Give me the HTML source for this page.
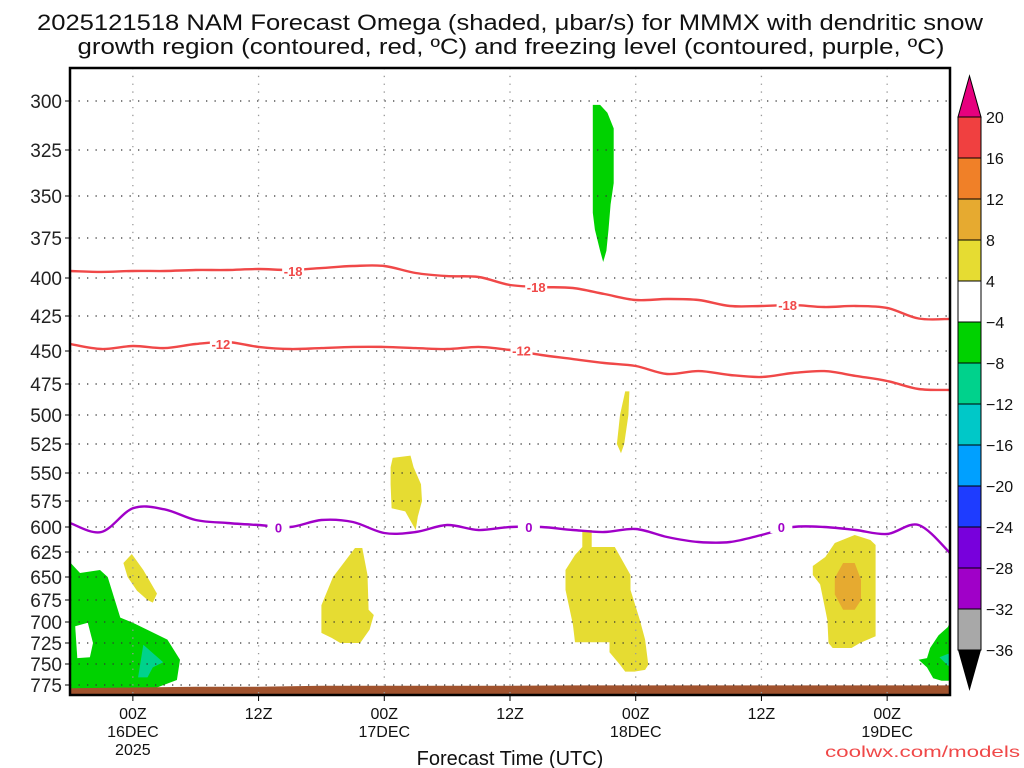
<!DOCTYPE html>
<html><head><meta charset="utf-8"><style>
body{margin:0;background:#fff;}
svg{display:block;font-family:"Liberation Sans",sans-serif;}
</style></head><body>
<svg id="c" width="1024" height="768" viewBox="0 0 1024 768">
<text x="510" y="30" font-size="22" text-anchor="middle" textLength="946" lengthAdjust="spacingAndGlyphs" fill="#111">2025121518 NAM Forecast Omega (shaded, μbar/s) for MMMX with dendritic snow</text>
<text x="511" y="54" font-size="22" text-anchor="middle" textLength="867" lengthAdjust="spacingAndGlyphs" fill="#111">growth region (contoured, red, ºC) and freezing level (contoured, purple, ºC)</text>
<g id="plot"></g>
<text x="510" y="765" font-size="20" text-anchor="middle" fill="#111">Forecast Time (UTC)</text>
<text x="1020" y="757" font-size="16" text-anchor="end" fill="#f04848" textLength="195" lengthAdjust="spacingAndGlyphs">coolwx.com/models</text>
</svg>
<script>
// ---- data ----
const pTicks=[300,325,350,375,400,425,450,475,500,525,550,575,600,625,650,675,700,725,750,775];
const timeTickHours=[6,18,30,42,54,66,78];
const timeTickLabels=[["00Z","16DEC","2025"],["12Z"],["00Z","17DEC"],["12Z"],["00Z","18DEC"],["12Z"],["00Z","19DEC"]];
const contourHours=[0,3,6,9,12,15,18,21,24,27,30,33,36,39,42,45,48,51,54,57,60,63,66,69,72,75,78,81,84];
const dgzMinus18=[395.6,396.2,395.6,395.6,395,395,394.4,395,393.8,392.5,392.5,396.9,398.8,399.4,404.6,405.9,406.6,410.5,414.5,413.8,414.5,418.4,418.4,417.8,419.1,418.4,419.7,426.8,427.1];
const dgzMinus12=[445,448.6,446.4,447.9,445,443.6,447.1,448.6,447.9,447.1,447.1,447.9,448.6,447.1,449.3,453,456.1,459.1,461.4,467.4,465.2,468.2,469.7,466.7,465.2,468.9,472.7,479,479.8];
const freezingLevel=[596.2,605,582,583,593.3,596.2,598.1,600,593.3,595.2,606,605,598.1,603,600,600,603,605,602,610,615,615,608,600,600,603,607,598.1,626];
const labelsM18=[[21.3,395.6],[44.5,405.9],[68.5,417.8]];
const labelsM12=[[14.4,445],[43.1,449.8]];
const labelsZero=[[19.9,600.5],[43.8,600],[67.9,600]];
const surfaceHours=[0,6,12,18,24,30,36,42,48,54,60,66,72,78,84];
const surfaceP=[779,778,777,777,776,776,776,776,775.5,775.5,775.5,775.5,775.5,775.5,775.5];
const colorLevels=[20,16,12,8,4,-4,-8,-12,-16,-20,-24,-28,-32,-36];
const colorFills=["#f04040","#f08028","#e6aa30","#e6dc32","#ffffff","#00d200","#00d28c","#00c8c8","#00a0ff","#1e3cff","#7800dc","#a000c8","#a8a8a8"];
const omegaGreenUpper=[[49.9,302],[50.6,302],[51.3,306],[51.9,314],[51.9,343],[51.6,355],[51.4,370],[51.2,383],[50.9,390],[50.6,383],[50.1,370],[49.9,360]];
const omegaYellowMid=[[53.0,481],[53.4,481],[53.3,500],[52.9,525],[52.6,533],[52.2,525],[52.5,500]];
const omegaYellow17a=[[30.8,537],[32.5,535],[32.8,545],[33.5,560],[33.6,575],[33.2,590],[33.0,603],[32.0,585],[30.7,582],[30.6,560],[30.6,545]];
const omegaYellow17b=[[27.2,621],[27.9,621],[28.4,648],[28.5,686],[29.0,692],[28.6,709],[27.7,725],[25.8,725],[25.0,719],[24.0,713],[24.0,681],[25.1,650]];
const omegaYellow18=[[48.9,603],[49.8,603],[49.8,620],[52.0,620],[53.5,648],[53.5,664],[54.4,698],[54.9,721],[55.2,751],[54.9,757],[53.9,759],[53.0,759],[52.5,751],[51.5,736],[51.5,724],[48.2,724],[48.0,703],[47.3,664],[47.3,643],[48.2,628],[48.9,620]];
const omegaYellow19=[[70.9,639],[72.1,630],[73.0,616],[74.9,608],[76.4,613],[76.9,618],[76.9,717],[75.4,725],[74.6,731],[72.8,731],[72.4,725],[72.3,698],[72.1,686],[71.6,658],[70.9,648]];
const omegaOrange19=[[73.8,636],[74.9,636],[75.5,653],[75.5,675],[74.9,686],[73.8,686],[73.0,669],[73.0,651]];
const omegaYellow16=[[5.9,627],[7.0,643],[8.3,668],[7.9,678],[7.4,675],[6.4,665],[5.5,650],[5.1,636]];
const omegaGreenLeft=[[0,630],[0.07,636],[0.95,646],[2.86,643],[3.6,650],[4.8,695],[6.0,701],[9.3,721],[10.5,745],[10.2,769],[8.3,778],[0,780]];
const omegaWhiteHole=[[0.5,705],[1.7,701],[2.2,725],[1.9,742],[0.7,743]];
const omegaTealLeft=[[7.0,727],[8.9,748],[7.9,754],[7.4,766],[6.5,766]];
const omegaGreenRight=[[84,700],[83.8,706],[82.9,716],[82.1,731],[81.8,743],[81.0,745],[81.8,754],[82.4,767],[83.2,770],[84,770]];
const omegaTealRight=[[83.0,742],[83.8,738],[84,738],[84,752],[83.8,752]];

// ---- axes ----
const X0=70,X1=950,Y0=68,Y1=695,H0=0,H1=84;
const pKnots=[283,300,325,350,375,400,425,450,475,500,525,550,575,600,625,650,675,700,725,750,775,787];
const yKnots=[68,101,150,196,238,278,316,351,384,415,444,473,501,527,552,577,600,622,643,664,685,695];
function xs(h){return X0+(h-H0)/(H1-H0)*(X1-X0);}
function ys(p){
  if(p<=pKnots[0])return yKnots[0]+(p-pKnots[0])*(yKnots[1]-yKnots[0])/(pKnots[1]-pKnots[0]);
  for(let i=1;i<pKnots.length;i++){if(p<=pKnots[i]){const t=(p-pKnots[i-1])/(pKnots[i]-pKnots[i-1]);return yKnots[i-1]+t*(yKnots[i]-yKnots[i-1]);}}
  return yKnots[yKnots.length-1];
}
const NS="http://www.w3.org/2000/svg";
const plot=document.getElementById('plot');
function mk(tag,attrs,parent){const e=document.createElementNS(NS,tag);for(const k in attrs)e.setAttribute(k,attrs[k]);(parent||plot).appendChild(e);return e;}
const clip=mk('clipPath',{id:'pc'});mk('rect',{x:X0,y:Y0,width:X1-X0,height:Y1-Y0},clip);
const inner=mk('g',{'clip-path':'url(#pc)'});


function poly(pts,fill,name){
  const e=mk('polygon',{points:pts.map(q=>xs(q[0]).toFixed(1)+','+ys(q[1]).toFixed(1)).join(' '),fill:fill},inner);
  
  
}
poly(omegaGreenLeft,'#00d200','omega-region-left-green');
poly(omegaWhiteHole,'#ffffff','omega-region-left-hole');
poly(omegaTealLeft,'#00d28c','omega-region-left-teal');
poly(omegaYellow16,'#e6dc32','omega-region-16dec-yellow');
poly(omegaYellow17a,'#e6dc32','omega-region-17dec-upper-yellow');
poly(omegaYellow17b,'#e6dc32','omega-region-17dec-lower-yellow');
poly(omegaGreenUpper,'#00d200','omega-region-upper-green');
poly(omegaYellowMid,'#e6dc32','omega-region-mid-yellow');
poly(omegaYellow18,'#e6dc32','omega-region-18dec-yellow');
poly(omegaYellow19,'#e6dc32','omega-region-19dec-yellow');
poly(omegaOrange19,'#e6aa30','omega-region-19dec-orange');
poly(omegaGreenRight,'#00d200','omega-region-right-green');
poly(omegaTealRight,'#00d28c','omega-region-right-teal');
// surface
{
  let d='M'+xs(surfaceHours[0])+','+Y1;
  surfaceHours.forEach((h,i)=>{d+=' L'+xs(h).toFixed(1)+','+ys(surfaceP[i]).toFixed(1);});
  d+=' L'+xs(surfaceHours[surfaceHours.length-1])+','+Y1+' Z';
  const s=mk('path',{d:d,fill:'#a0522d'},inner);
  
  
}
// grid
pTicks.forEach(p=>{
  const g=mk('line',{x1:X0,x2:X1,y1:ys(p),y2:ys(p),stroke:'#333','stroke-width':1.3,'stroke-dasharray':'1.3 7.2'},inner);
  
  
});
timeTickHours.forEach((h,i)=>{
  const g=mk('line',{x1:xs(h),x2:xs(h),y1:Y0,y2:Y1,stroke:'#999','stroke-width':1.3,'stroke-dasharray':'1.3 6.5'},inner);
  
  
});
// contours (smoothed Catmull-Rom)
function line(vals,color,name){
  const P=contourHours.map((h,i)=>[xs(h),ys(vals[i])]);
  let d='M'+P[0][0].toFixed(1)+','+P[0][1].toFixed(1);
  for(let i=0;i<P.length-1;i++){
    const p0=P[i-1]||P[i],p1=P[i],p2=P[i+1],p3=P[i+2]||P[i+1];
    const c1=[p1[0]+(p2[0]-p0[0])/6,p1[1]+(p2[1]-p0[1])/6];
    const c2=[p2[0]-(p3[0]-p1[0])/6,p2[1]-(p3[1]-p1[1])/6];
    d+=' C'+c1.map(v=>v.toFixed(1)).join(',')+' '+c2.map(v=>v.toFixed(1)).join(',')+' '+p2.map(v=>v.toFixed(1)).join(',');
  }
  const e=mk('path',{d:d,fill:'none',stroke:color,'stroke-width':2.4,'stroke-linejoin':'round'},inner);
  
  
}
line(dgzMinus18,'#f04848','contour-minus18');
line(dgzMinus12,'#f04848','contour-minus12');
line(freezingLevel,'#a000c8','freezing-level-contour');
function clabels(arr,txt,color,name){
  arr.forEach(q=>{
    const r=mk('rect',{x:xs(q[0])-11,y:ys(q[1])-6,width:22,height:12,fill:'#fff'},inner);
    
    
    const t=mk('text',{x:xs(q[0]),y:ys(q[1])+5,'font-size':13,'font-weight':'bold','text-anchor':'middle',fill:color},inner);
    
    
    t.textContent=txt;
  });
}
clabels(labelsM18,'-18','#f04848','contour-label-minus18');
clabels(labelsM12,'-12','#f04848','contour-label-minus12');
clabels(labelsZero,'0','#a000c8','contour-label-zero');
// frame
const fr=mk('rect',{x:X0,y:Y0,width:X1-X0,height:Y1-Y0,fill:'none',stroke:'#000','stroke-width':2.5});


// y ticks
pTicks.forEach(p=>{
  const tk=mk('line',{x1:X0-5,x2:X0,y1:ys(p),y2:ys(p),stroke:'#000','stroke-width':1});
  
  
  const t=mk('text',{x:X0-8,y:ys(p)+7,'font-size':19,'text-anchor':'end',fill:'#222'});
  
  
  t.textContent=p;
});
// x ticks
timeTickHours.forEach((h,i)=>{
  const tk=mk('line',{x1:xs(h),x2:xs(h),y1:Y1,y2:Y1+6,stroke:'#000','stroke-width':1});
  
  
  timeTickLabels[i].forEach((s,j)=>{
    const t=mk('text',{x:xs(h),y:Y1+24+j*18,'font-size':16,'text-anchor':'middle',fill:'#111'});
    
    
    t.textContent=s;
  });
});
// colorbar
const CB={x:958,w:23,top:117,step:41};
const svg=document.getElementById('c');
const cb=mk('g',{},svg);


const up=mk('polygon',{points:`${CB.x},${CB.top} ${CB.x+CB.w},${CB.top} ${CB.x+CB.w/2},76`,fill:'#e6007e',stroke:'#000','stroke-width':1},cb);


colorFills.forEach((c,i)=>{
  const r=mk('rect',{x:CB.x,y:CB.top+i*CB.step,width:CB.w,height:CB.step,fill:c,stroke:'#000','stroke-width':1},cb);
  
  
});
const bot=CB.top+colorFills.length*CB.step;
const dn=mk('polygon',{points:`${CB.x},${bot} ${CB.x+CB.w},${bot} ${CB.x+CB.w/2},691`,fill:'#000'},cb);


colorLevels.forEach((v,i)=>{
  const t=mk('text',{x:986,y:CB.top+i*CB.step+6,'font-size':16,fill:'#111'},cb);
  
  
  t.textContent=v<0?'\u2212'+(-v):String(v);
});
</script>
</body></html>
